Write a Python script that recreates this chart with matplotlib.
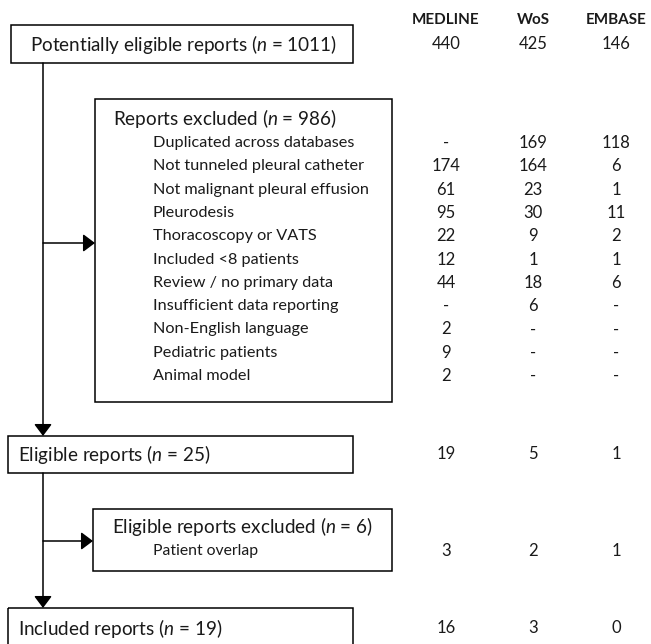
"""Flow diagram of report selection (MEDLINE / WoS / EMBASE)."""
import matplotlib

matplotlib.use("Agg")
import matplotlib.pyplot as plt
from matplotlib.patches import Rectangle

plt.rcParams["font.family"] = ["Lato", "DejaVu Sans"]
plt.rcParams["mathtext.fontset"] = "custom"
plt.rcParams["mathtext.it"] = "Lato:italic"
plt.rcParams["mathtext.rm"] = "Lato"

# ── data ────────────────────────────────────────────────────────────────
databases = ["MEDLINE", "WoS", "EMBASE"]

total_label = "Potentially eligible reports ($n$ = 1011)"
total_counts = ["440", "425", "146"]

excluded_label = "Reports excluded ($n$ = 986)"
excluded_reasons = [
    "Duplicated across databases",
    "Not tunneled pleural catheter",
    "Not malignant pleural effusion",
    "Pleurodesis",
    "Thoracoscopy or VATS",
    "Included <8 patients",
    "Review / no primary data",
    "Insufficient data reporting",
    "Non-English language",
    "Pediatric patients",
    "Animal model",
]
excl_medline = ["-", "174", "61", "95", "22", "12", "44", "-", "2", "9", "2"]
excl_wos = ["169", "164", "23", "30", "9", "1", "18", "6", "-", "-", "-"]
excl_embase = ["118", "6", "1", "11", "2", "1", "6", "-", "-", "-", "-"]

eligible_label = "Eligible reports ($n$ = 25)"
eligible_counts = ["19", "5", "1"]

elig_excl_label = "Eligible reports excluded ($n$ = 6)"
elig_excl_reasons = ["Patient overlap"]
elig_excl_counts = [["3", "2", "1"]]

included_label = "Included reports ($n$ = 19)"
included_counts = ["16", "3", "0"]

# ── layout (pixel coords) ───────────────────────────────────────────────
W, H = 651, 644
col_x = [446, 533, 616]
spine_x = 43
LW = 1.1
TXT = "#1a1a1a"
TITLE_FS = 13.6
ITEM_FS = 11.7
NUM_FS = 12

fig = plt.figure(figsize=(W / 100, H / 100), dpi=100)
ax = fig.add_axes([0, 0, 1, 1])
ax.set_xlim(0, W)
ax.set_ylim(H, 0)
ax.axis("off")


def box(x0, y0, x1, y1):
    ax.add_patch(Rectangle((x0, y0), x1 - x0, y1 - y0, fill=False,
                           edgecolor="black", linewidth=LW))


def arrow(x0, y0, x1, y1):
    ax.annotate("", xy=(x1, y1), xytext=(x0, y0),
                arrowprops=dict(arrowstyle="-|>,head_length=0.4,head_width=0.3",
                                mutation_scale=18, lw=LW, color="black",
                                shrinkA=0, shrinkB=0))


def counts(y, vals):
    for cx, v in zip(col_x, vals):
        ax.text(cx, y, v, ha="center", va="center", fontsize=NUM_FS, color=TXT)


# column headers
for cx, name in zip(col_x, databases):
    ax.text(cx, 20, name, ha="center", va="center", fontsize=11,
            fontweight="bold", color=TXT)

# box 1
box(11, 25, 353, 63)
ax.text(30, 44, total_label, va="center", fontsize=TITLE_FS, color=TXT)
counts(44, total_counts)

# box 2
box(95, 99, 392, 402)
ax.text(113, 118, excluded_label, va="center", fontsize=TITLE_FS, color=TXT)
for i, reason in enumerate(excluded_reasons):
    y = 143 + 23.3 * i
    ax.text(153, y, reason, va="center", fontsize=ITEM_FS, color=TXT)
    counts(y, [excl_medline[i], excl_wos[i], excl_embase[i]])

# box 3
box(8, 436, 353, 473)
ax.text(18, 454, eligible_label, va="center", fontsize=TITLE_FS, color=TXT)
counts(454, eligible_counts)

# box 4
box(93, 509, 392, 571)
ax.text(112, 526, elig_excl_label, va="center", fontsize=TITLE_FS, color=TXT)
for i, reason in enumerate(elig_excl_reasons):
    ax.text(153, 551 + 20 * i, reason, va="center", fontsize=11.3, color=TXT)
    counts(551 + 20 * i, elig_excl_counts[i])

# box 5 (runs off the bottom edge)
box(8, 608, 353, 660)
ax.text(18, 628, included_label, va="center", fontsize=TITLE_FS, color=TXT)
counts(628, included_counts)

# connectors
arrow(spine_x, 63, spine_x, 436)
arrow(spine_x, 243, 95, 243)
arrow(spine_x, 473, spine_x, 608)
arrow(spine_x, 541, 93, 541)

fig.savefig("out.png", dpi=100)
